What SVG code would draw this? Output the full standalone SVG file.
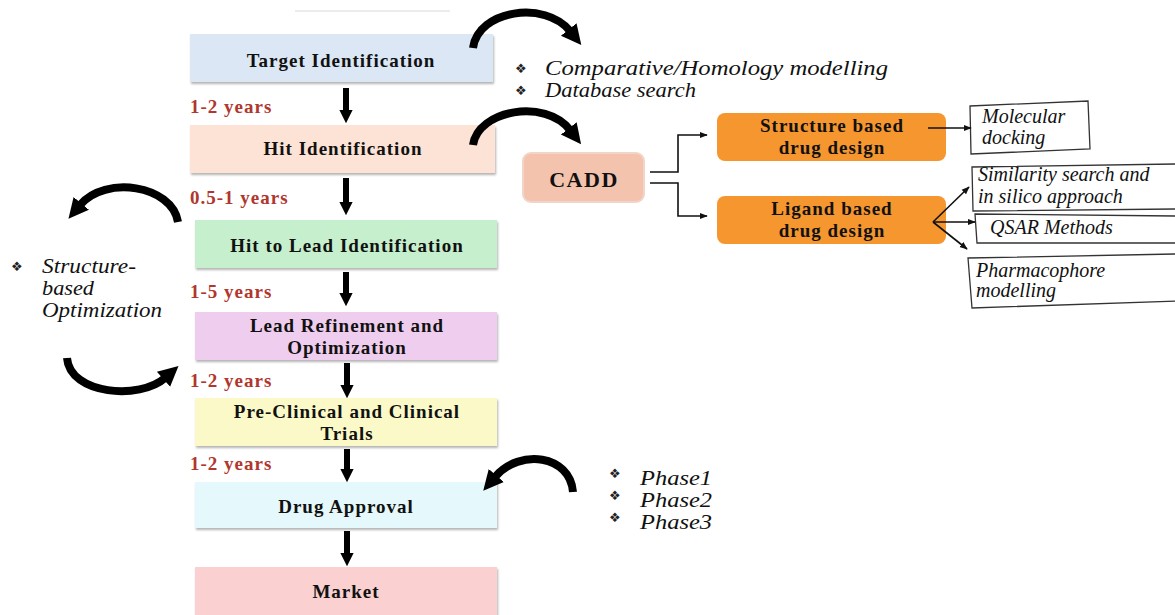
<svg xmlns="http://www.w3.org/2000/svg" width="1175" height="615" viewBox="0 0 1175 615">
<defs>
<style>
.box{stroke:none;filter:url(#sh)}
.bt{font-weight:bold;font-size:19px;letter-spacing:1px;fill:#111;text-anchor:middle}
.yr{font-weight:bold;font-size:19px;letter-spacing:1px;fill:#b0362e}
.it{font-style:italic;fill:#111}
.bul{font-size:13px;fill:#222}
.down{stroke:#000;stroke-width:6;fill:none;marker-end:url(#bigHead)}
.curve{stroke:#000;stroke-width:8;fill:none;marker-end:url(#curveHead)}
.thin{stroke:#111;stroke-width:1.6;fill:none;marker-end:url(#smallHead)}
.sk{stroke:#333;stroke-width:1.3;fill:#fff}
</style>
<filter id="sh" x="-5%" y="-10%" width="110%" height="130%">
<feDropShadow dx="1" dy="2" stdDeviation="1.2" flood-color="#777" flood-opacity="0.55"/>
</filter>
<marker id="bigHead" viewBox="0 0 10 10" refX="0" refY="5" markerWidth="2.2" markerHeight="3.1" orient="auto" markerUnits="strokeWidth">
<path d="M0,0 L10,5 L0,10 z" fill="#000"/>
</marker>
<marker id="curveHead" viewBox="0 0 10 10" refX="1" refY="5" markerWidth="2.5" markerHeight="3" orient="auto" markerUnits="strokeWidth">
<path d="M0,0 L10,5 L0,10 z" fill="#000"/>
</marker>
<marker id="smallHead" viewBox="0 0 10 10" refX="9" refY="5" markerWidth="5" markerHeight="5" orient="auto" markerUnits="strokeWidth">
<path d="M0,1 L10,5 L0,9 z" fill="#111"/>
</marker>
</defs>
<rect width="1175" height="615" fill="#fff"/>
<line x1="295" y1="11" x2="450" y2="11" stroke="#e6e6e6" stroke-width="1.5"/>

<g font-family="'Liberation Serif', 'Times New Roman', serif">
<g id="target"><rect class="box" x="190" y="34" width="303" height="48" fill="#dbe7f5"/><text class="bt" x="341" y="67">Target Identification</text></g>
<g id="hit"><rect class="box" x="190" y="125" width="305" height="48" fill="#fce3d5"/><text class="bt" x="343" y="155">Hit Identification</text></g>
<g id="hitlead"><rect class="box" x="195" y="220" width="302" height="48" fill="#c6efcd"/><text class="bt" x="347" y="252">Hit to Lead Identification</text></g>
<g id="lead"><rect class="box" x="195" y="312" width="302" height="48" fill="#efcdef"/><text class="bt" x="347" y="332">Lead Refinement and</text><text class="bt" x="347" y="354">Optimization</text></g>
<g id="preclinical"><rect class="box" x="195" y="398" width="302" height="48" fill="#fbf9c8"/><text class="bt" x="347" y="418">Pre-Clinical and Clinical</text><text class="bt" x="347" y="440">Trials</text></g>
<g id="approval"><rect class="box" x="195" y="482" width="302" height="46" fill="#e5f8fb"/><text class="bt" x="346" y="513">Drug Approval</text></g>
<g id="market"><rect class="box" x="195" y="567" width="302" height="50" fill="#fad0d0"/><text class="bt" x="346" y="598">Market</text></g>

<g id="years">
<text class="yr" x="190" y="113">1-2 years</text>
<text class="yr" x="190" y="204">0.5-1 years</text>
<text class="yr" x="190" y="298">1-5 years</text>
<text class="yr" x="190" y="387">1-2 years</text>
<text class="yr" x="190" y="470">1-2 years</text>
</g>

<g id="cadd"><rect x="523" y="153" width="121" height="49" rx="8" fill="#f4c3ad" stroke="#f0d5c8" stroke-width="2"/><text class="bt" x="584" y="187" style="font-size:22px;letter-spacing:1.5px">CADD</text></g>
<g id="sbdd"><rect x="717" y="113" width="229" height="48" rx="8" fill="#f6962f"/><text class="bt" x="832" y="132">Structure based</text><text class="bt" x="832" y="154">drug design</text></g>
<g id="lbdd"><rect x="717" y="196" width="229" height="48" rx="8" fill="#f6962f"/><text class="bt" x="832" y="215">Ligand based</text><text class="bt" x="832" y="237">drug design</text></g>

<g id="docking"><path class="sk" d="M970 106 L1088 101 L1090 149 L971 154 Z"/><text class="it" x="982" y="123" font-size="20">Molecular</text><text class="it" x="982" y="144" font-size="20">docking</text></g>
<g id="similarity"><path class="sk" d="M1176 164 L972 167 L973 211 L1176 209"/><text class="it" x="978" y="181" font-size="20">Similarity search and</text><text class="it" x="978" y="203" font-size="20">in silico approach</text></g>
<g id="qsar"><path class="sk" d="M1176 216 L975 214 L977 243 L1176 243"/><text class="it" x="990" y="234" font-size="20">QSAR Methods</text></g>
<g id="pharmacophore"><path class="sk" d="M1176 254 L968 258 L972 308 L1176 301"/><text class="it" x="976" y="277" font-size="20">Pharmacophore</text><text class="it" x="976" y="297" font-size="20">modelling</text></g>

<g id="notes">
<text class="it" x="545" y="75" font-size="21" textLength="343" lengthAdjust="spacingAndGlyphs">Comparative/Homology modelling</text>
<text class="it" x="545" y="97" font-size="21" textLength="151" lengthAdjust="spacingAndGlyphs">Database search</text>
<text class="it" x="42" y="273" font-size="21" textLength="94" lengthAdjust="spacingAndGlyphs">Structure-</text>
<text class="it" x="42" y="295" font-size="21" textLength="52" lengthAdjust="spacingAndGlyphs">based</text>
<text class="it" x="42" y="317" font-size="21" textLength="120" lengthAdjust="spacingAndGlyphs">Optimization</text>
<text class="it" x="640" y="485" font-size="21" textLength="72" lengthAdjust="spacingAndGlyphs">Phase1</text>
<text class="it" x="640" y="507" font-size="21" textLength="72" lengthAdjust="spacingAndGlyphs">Phase2</text>
<text class="it" x="640" y="529" font-size="21" textLength="72" lengthAdjust="spacingAndGlyphs">Phase3</text>
</g>
</g>
<g id="bullets" font-family="'DejaVu Sans', sans-serif">
<text class="bul" x="515" y="73">❖</text>
<text class="bul" x="515" y="95">❖</text>
<text class="bul" x="11" y="271">❖</text>
<text class="bul" x="609" y="478">❖</text>
<text class="bul" x="609" y="500">❖</text>
<text class="bul" x="609" y="522">❖</text>
</g>

<g id="connectors">
<line class="down" x1="346" y1="88" x2="346" y2="110"/>
<line class="down" x1="346" y1="178" x2="346" y2="202"/>
<line class="down" x1="346" y1="272" x2="346" y2="293"/>
<line class="down" x1="347" y1="363" x2="347" y2="385"/>
<line class="down" x1="347" y1="449" x2="347" y2="469"/>
<line class="down" x1="347" y1="531" x2="347" y2="553"/>
<path class="curve" d="M473 48 C478 10 545 0 570 31"/>
<path class="curve" d="M473 145 C478 110 545 98 570 130"/>
<path class="curve" d="M178 222 C172 185 105 175 80 205"/>
<path class="curve" d="M67 358 C70 395 140 400 165 378"/>
<path class="curve" d="M573 492 C570 455 520 448 495 477"/>
<path class="thin" d="M650 172 L678 172 L678 135 L707 135"/>
<path class="thin" d="M650 183 L678 183 L678 216 L707 216"/>
<path class="thin" d="M928 128 L971 128"/>
<path class="thin" d="M933 222 L969 187"/>
<path class="thin" d="M933 222 L975 222"/>
<path class="thin" d="M933 222 L967 249"/>
</g>
</svg>
